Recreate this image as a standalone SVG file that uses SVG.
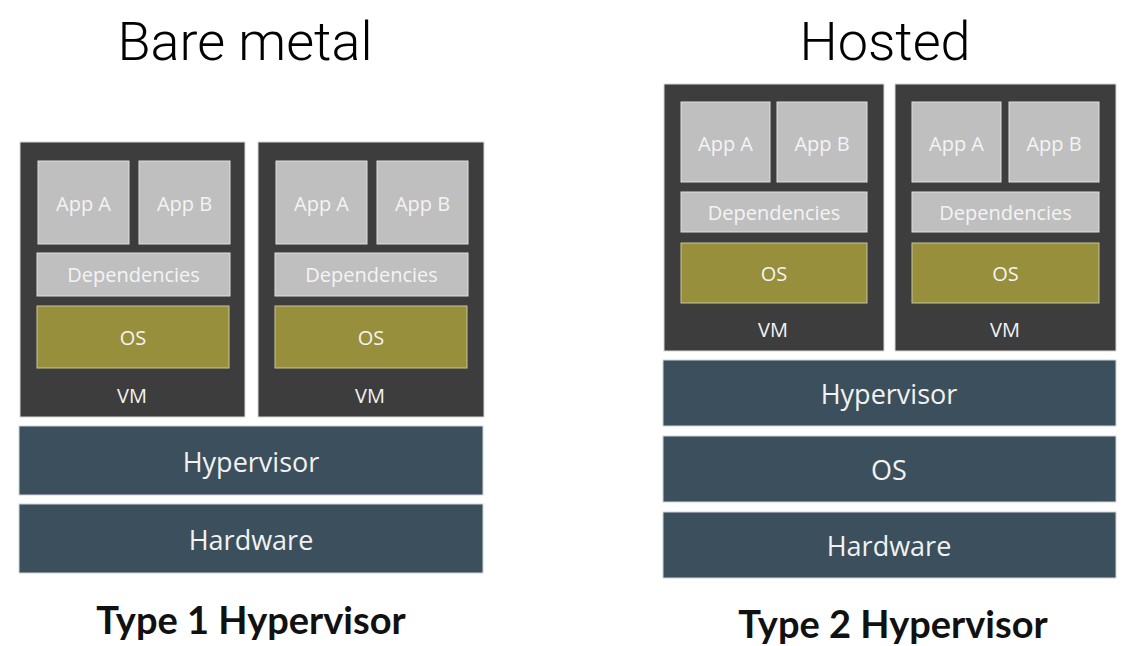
<svg xmlns="http://www.w3.org/2000/svg" width="1128" height="646" viewBox="0 0 1128 646">
<style>
.vm{fill:#3d3d3d;stroke:#d8d8d8;stroke-width:1}
.lt{fill:#bfbfbf;stroke:#e0e0e0;stroke-width:1}
.os{fill:#978f3c;stroke:#c9c49a;stroke-width:1}
.bar{fill:#3c4f5c;stroke:#d0d5d8;stroke-width:1}
.t{font-family:"Open Sans",Lato,sans-serif;text-anchor:middle;dominant-baseline:central}
.s{font-size:20px;fill:#f4f4f4}
.v{font-size:20px;fill:#f2f2f2}
.b{font-size:27px;fill:#f2f2f2}
.h{font-family:Roboto,"Liberation Sans",sans-serif;font-weight:300;font-size:54px;text-anchor:middle;fill:#000}
.ty{font-family:Lato,"Open Sans",sans-serif;font-weight:bold;font-size:38px;text-anchor:middle;fill:#111}
</style>
<rect width="1128" height="646" fill="#fff"/>
<text class="h" x="245" y="60">Bare metal</text>
<text class="h" x="885" y="60">Hosted</text>

<g id="vm1">
<rect class="vm" x="20" y="142" width="225" height="275"/>
<rect class="lt" x="38" y="161" width="91" height="83"/><text class="t s" x="83.5" y="203">App A</text>
<rect class="lt" x="139" y="161" width="91" height="83"/><text class="t s" x="184.5" y="203">App B</text>
<rect class="lt" x="37" y="253" width="193" height="43"/><text class="t s" x="133.5" y="274.5">Dependencies</text>
<rect class="os" x="37" y="306" width="192" height="62"/><text class="t s" x="133" y="337">OS</text>
<text class="t v" x="132" y="395">VM</text>
</g>
<g id="vm2">
<rect class="vm" x="258" y="142" width="226" height="275"/>
<rect class="lt" x="276" y="161" width="91" height="83"/><text class="t s" x="321.5" y="203">App A</text>
<rect class="lt" x="377" y="161" width="91" height="83"/><text class="t s" x="422.5" y="203">App B</text>
<rect class="lt" x="275" y="253" width="193" height="43"/><text class="t s" x="371.5" y="274.5">Dependencies</text>
<rect class="os" x="275" y="306" width="192" height="62"/><text class="t s" x="371" y="337">OS</text>
<text class="t v" x="370" y="395">VM</text>
</g>
<g id="hyp1"><rect class="bar" x="19" y="426" width="464" height="69"/><text class="t b" x="251" y="461">Hypervisor</text></g>
<g id="hw1"><rect class="bar" x="19" y="504" width="464" height="69"/><text class="t b" x="251" y="539">Hardware</text></g>
<text class="ty" x="251" y="634">Type 1 Hypervisor</text>

<g id="vm3">
<rect class="vm" x="664" y="84" width="220" height="267"/>
<rect class="lt" x="681" y="102" width="89" height="80"/><text class="t s" x="725.5" y="143">App A</text>
<rect class="lt" x="777" y="102" width="90" height="80"/><text class="t s" x="822" y="143">App B</text>
<rect class="lt" x="681" y="192" width="186" height="40"/><text class="t s" x="774" y="212">Dependencies</text>
<rect class="os" x="681" y="243" width="186" height="60"/><text class="t s" x="774" y="273">OS</text>
<text class="t v" x="773" y="329">VM</text>
</g>
<g id="vm4">
<rect class="vm" x="895" y="84" width="221" height="267"/>
<rect class="lt" x="912" y="102" width="89" height="80"/><text class="t s" x="956.5" y="143">App A</text>
<rect class="lt" x="1009" y="102" width="90" height="80"/><text class="t s" x="1054" y="143">App B</text>
<rect class="lt" x="912" y="192" width="187" height="40"/><text class="t s" x="1005.5" y="212">Dependencies</text>
<rect class="os" x="912" y="243" width="187" height="60"/><text class="t s" x="1005.5" y="273">OS</text>
<text class="t v" x="1005" y="329">VM</text>
</g>
<g id="hyp2"><rect class="bar" x="663" y="360" width="453" height="66"/><text class="t b" x="889" y="393">Hypervisor</text></g>
<g id="os2"><rect class="bar" x="663" y="436" width="453" height="66"/><text class="t b" x="889" y="469">OS</text></g>
<g id="hw2"><rect class="bar" x="663" y="512" width="453" height="66"/><text class="t b" x="889" y="545">Hardware</text></g>
<text class="ty" x="893" y="638">Type 2 Hypervisor</text>
</svg>
